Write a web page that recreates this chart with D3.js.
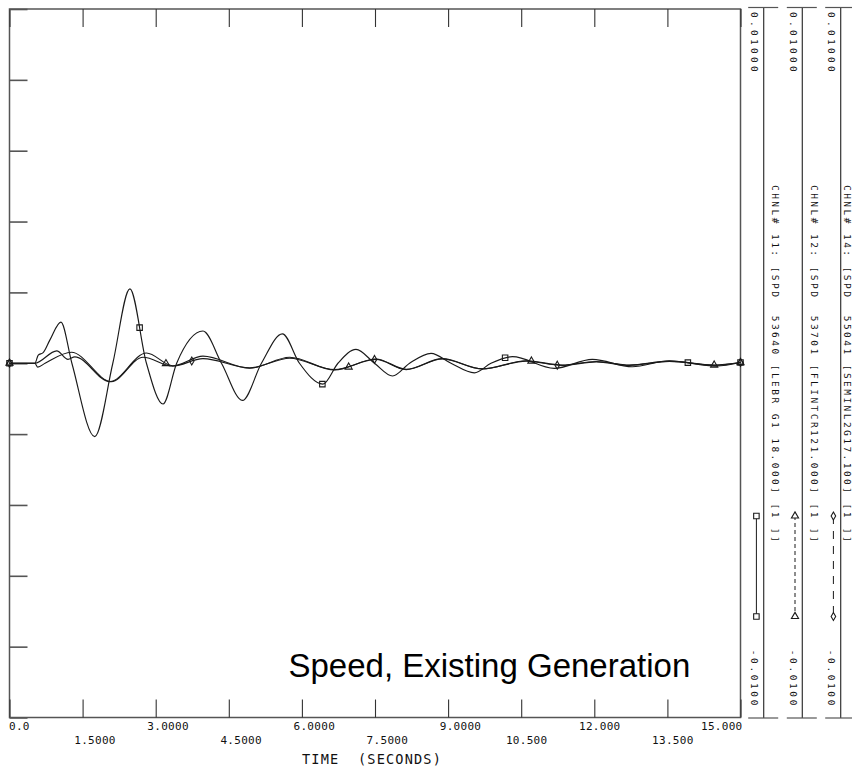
<!DOCTYPE html>
<html>
<head>
<meta charset="utf-8">
<script src="https://cdn.jsdelivr.net/npm/d3@7"></script>
<style>
    body { margin: 0; background: #fff; }
    text { font-family: "DejaVu Sans Mono", monospace; fill: #111; }
</style>
</head>
<body>
<svg id="chart" width="852" height="772"></svg>
<script>
/* ---------------------- Data ---------------------- */
// [time (s), speed deviation (pu)]
var ch11 = [[0,0],[0.52,0],[0.59,0.00023],[0.69,0.0003],[0.83,0.00066],[1.055,0.00116],[1.28,0],[1.75,-0.00207],
    [2.12,0],[2.47,0.0021],[2.81,0],[3.15,-0.00115],[3.43,0],[3.97,0.00091],[4.35,0],[4.78,-0.00105],[5.17,0],
    [5.6,0.00083],[5.95,0],[6.43,-0.00059],[6.74,0],[7.11,0.00039],[7.49,0],[7.86,-0.00036],[8.21,0],[8.65,0.00028],
    [9.06,0],[9.54,-0.00027],[9.88,0],[10.32,0.000185],[11.18,-0.000143],[11.96,0.00011],[12.78,-0.0001],
    [13.54,0.00007],[14.5,-0.00008],[15,0.00002]];
var ch12 = [[0,0],[0.52,0],[0.97,0.00035],[1.2,0.00011],[1.34,0.00018],[2.06,-0.00052],[2.81,0.00029],
    [3.35,-0.00007],[3.97,0.0002],[4.93,-0.00014],[5.75,0.00017],[6.67,-0.00019],[7.52,0.00012],[8.14,-0.00017],
    [8.88,0.00013],[9.7,-0.00016],[10.6,0.00007],[11.34,-0.00005],[12.04,0.00005],[12.72,-0.00005],[13.54,0.00006],
    [14.46,-0.00005],[15,0.00002]];
var ch14 = [[0,0],[0.52,0],[0.58,-0.00011],[0.73,0],[1.27,0.00031],[2.09,-0.00052],[2.74,0.00017],
    [3.35,-0.00008],[3.97,0.00013],[4.93,-0.00013],[5.75,0.00014],[6.67,-0.00018],[7.52,0.00011],[8.14,-0.00018],
    [8.88,0.00012],[9.7,-0.00016],[10.6,0.00006],[11.34,-0.00006],[12.04,0.00004],[12.72,-0.00006],[13.54,0.00005],
    [14.46,-0.00006],[15,0.00002]];

var markersCh11 = [0, 2.67, 6.42, 10.17, 13.92, 15];
var markersCh12 = [0, 3.21, 6.96, 10.71, 14.46, 15];
var markersCh14 = [0, 3.74, 7.49, 11.24, 15];

var channelLabels = [
    "CHNL# 11: [SPD  53640 [LEBR G1 18.000] [1 ]]",
    "CHNL# 12: [SPD  53701 [FLINTCR121.000] [1 ]]",
    "CHNL# 14: [SPD  55041 [SEMINL2G17.100] [1 ]]"
];
var xTicks = [0, 1.5, 3, 4.5, 6, 7.5, 9, 10.5, 12, 13.5, 15];
var xTickLabels = ["0.0", "1.5000", "3.0000", "4.5000", "6.0000", "7.5000", "9.0000", "10.500", "12.000", "13.500", "15.000"];
var yTicks = [-0.01, -0.008, -0.006, -0.004, -0.002, 0, 0.002, 0.004, 0.006, 0.008, 0.01];
var yMin = -0.01, yMax = 0.01;
var panelTopLabel = "0.01000", panelBottomLabel = "-0.0100";
var xTitle = "TIME  (SECONDS)";
var chartTitle = "Speed, Existing Generation";

/* ---------------------- Layout ---------------------- */
var svg = d3.select("#chart");
var lineColor = "#1a1a1a", frameColor = "#555";

var xScale = d3.scaleLinear().domain([0, 15]).range([9.5, 740.5]);
var yScale = d3.scaleLinear().domain([yMin, yMax]).range([717.5, 9]);
var panelY = d3.scaleLinear().domain([yMin, yMax]).range([718, 7.5]);

var series = [
    {data: ch11, marks: markersCh11, symbol: d3.symbolSquare, size: 30, dash: null},
    {data: ch12, marks: markersCh12, symbol: d3.symbolTriangle, size: 22, dash: "4,3"},
    {data: ch14, marks: markersCh14, symbol: d3.symbolDiamond, size: 18, dash: "8,7"}
];

// frame
svg.append("rect")
    .attr("x", xScale(0)).attr("y", yScale(yMax))
    .attr("width", xScale(15) - xScale(0))
    .attr("height", yScale(yMin) - yScale(yMax))
    .attr("fill", "none").attr("stroke", frameColor).attr("stroke-width", 1.5);

// ticks (inside the frame)
function noDomain(g) { g.select(".domain").remove(); g.selectAll(".tick line").attr("stroke-width", 1.1); }

svg.append("g").attr("color", "#333")
    .attr("transform", `translate(0,${yScale(yMax)})`)
    .call(d3.axisBottom(xScale).tickValues(xTicks).tickSize(18).tickFormat(""))
    .call(noDomain);
svg.append("g").attr("color", "#333")
    .attr("transform", `translate(0,${yScale(yMin)})`)
    .call(d3.axisTop(xScale).tickValues(xTicks).tickSize(18).tickFormat(""))
    .call(noDomain);
svg.append("g").attr("color", "#555")
    .attr("transform", `translate(${xScale(0)},0)`)
    .call(d3.axisRight(yScale).tickValues(yTicks).tickSize(18).tickFormat(""))
    .call(g => { g.select(".domain").remove(); g.selectAll(".tick line").attr("stroke-width", 1.6); });

// x tick labels, decimal point lined up near the tick, two staggered rows
var charW = 6.92;
svg.append("g").selectAll("text")
    .data(xTicks)
    .enter()
    .append("text")
    .attr("font-size", 11)
    .attr("letter-spacing", 0.3)
    .attr("y", (d, i) => i % 2 ? 743.5 : 730)
    .attr("x", (d, i) => {
        var lbl = xTickLabels[i];
        var sx = xScale(d) + 2 - charW * lbl.indexOf(".") - charW / 2;
        return Math.max(9, Math.min(sx, 741 - charW * lbl.length + 1.5));
    })
    .text((d, i) => xTickLabels[i]);

svg.append("text")
    .attr("x", 302).attr("y", 763.5)
    .attr("font-size", 13.6)
    .attr("letter-spacing", 1.15)
    .attr("xml:space", "preserve")
    .style("white-space", "pre")
    .text(xTitle);

// curves
var line = d3.line()
    .x(d => xScale(d[0]))
    .y(d => yScale(d[1]))
    .curve(d3.curveMonotoneX);

function pointAtX(node, px) {
    var lo = 0, hi = node.getTotalLength();
    for (var i = 0; i < 40; i++) {
        var mid = (lo + hi) / 2;
        if (node.getPointAtLength(mid).x < px) lo = mid; else hi = mid;
    }
    return node.getPointAtLength(hi);
}

series.forEach(s => {
    var path = svg.append("path")
        .datum(s.data)
        .attr("d", line)
        .attr("fill", "none")
        .attr("stroke", lineColor)
        .attr("stroke-width", 1.15);

    var node = path.node();
    var sym = d3.symbol().type(s.symbol).size(s.size);
    svg.append("g").selectAll("path")
        .data(s.marks)
        .enter()
        .append("path")
        .attr("d", sym)
        .attr("transform", t => {
            var p = pointAtX(node, xScale(t));
            return `translate(${p.x},${p.y})`;
        })
        .attr("fill", "none")
        .attr("stroke", lineColor)
        .attr("stroke-width", 1.1);
});

// right-hand channel panels
var panelX = [763.7, 802.3, 840.7];
var labelOffset = [8, 8.7, 3.3];

panelX.forEach((px, i) => {
    var g = svg.append("g");
    g.append("line")
        .attr("x1", px).attr("x2", px)
        .attr("y1", panelY(yMax)).attr("y2", panelY(yMin))
        .attr("stroke", "#333").attr("stroke-width", 1.2);
    g.selectAll(".end")
        .data([yMax, yMin])
        .enter()
        .append("line")
        .attr("x1", px - 15.5).attr("x2", px + 14.5)
        .attr("y1", d => panelY(d)).attr("y2", d => panelY(d))
        .attr("stroke", "#555").attr("stroke-width", 1.2);

    g.append("text")
        .attr("transform", `translate(${px - 12.5},${panelY(yMax) + 4.5}) rotate(90)`)
        .attr("font-size", 9.5).attr("letter-spacing", 3.3)
        .text(panelTopLabel);
    g.append("text")
        .attr("transform", `translate(${px - 12.5},${panelY(yMin) - 10}) rotate(90)`)
        .attr("text-anchor", "end")
        .attr("font-size", 9.5).attr("letter-spacing", 2.6)
        .text(panelBottomLabel);
    g.append("text")
        .attr("transform", `translate(${px + labelOffset[i]},185) rotate(90)`)
        .attr("font-size", 9.5).attr("letter-spacing", 2.45)
        .attr("xml:space", "preserve")
        .style("white-space", "pre")
        .text(channelLabels[i]);

    // legend sample
    var s = series[i];
    var lx = px - 7.3;
    g.append("line")
        .attr("x1", lx).attr("x2", lx).attr("y1", 516).attr("y2", 616.5)
        .attr("stroke", lineColor).attr("stroke-width", 1)
        .attr("stroke-dasharray", s.dash);
    g.selectAll(".mk")
        .data([516, 616.5])
        .enter()
        .append("path")
        .attr("d", d3.symbol().type(s.symbol).size(s.size))
        .attr("transform", d => `translate(${lx},${d})`)
        .attr("fill", "#fff").attr("stroke", lineColor).attr("stroke-width", 1.1);
});

// title
svg.append("text")
    .attr("x", 288.5).attr("y", 677)
    .attr("font-size", 33)
    .style("font-family", "'Liberation Sans', Arial, sans-serif")
    .style("fill", "#000")
    .text(chartTitle);
</script>
</body>
</html>
